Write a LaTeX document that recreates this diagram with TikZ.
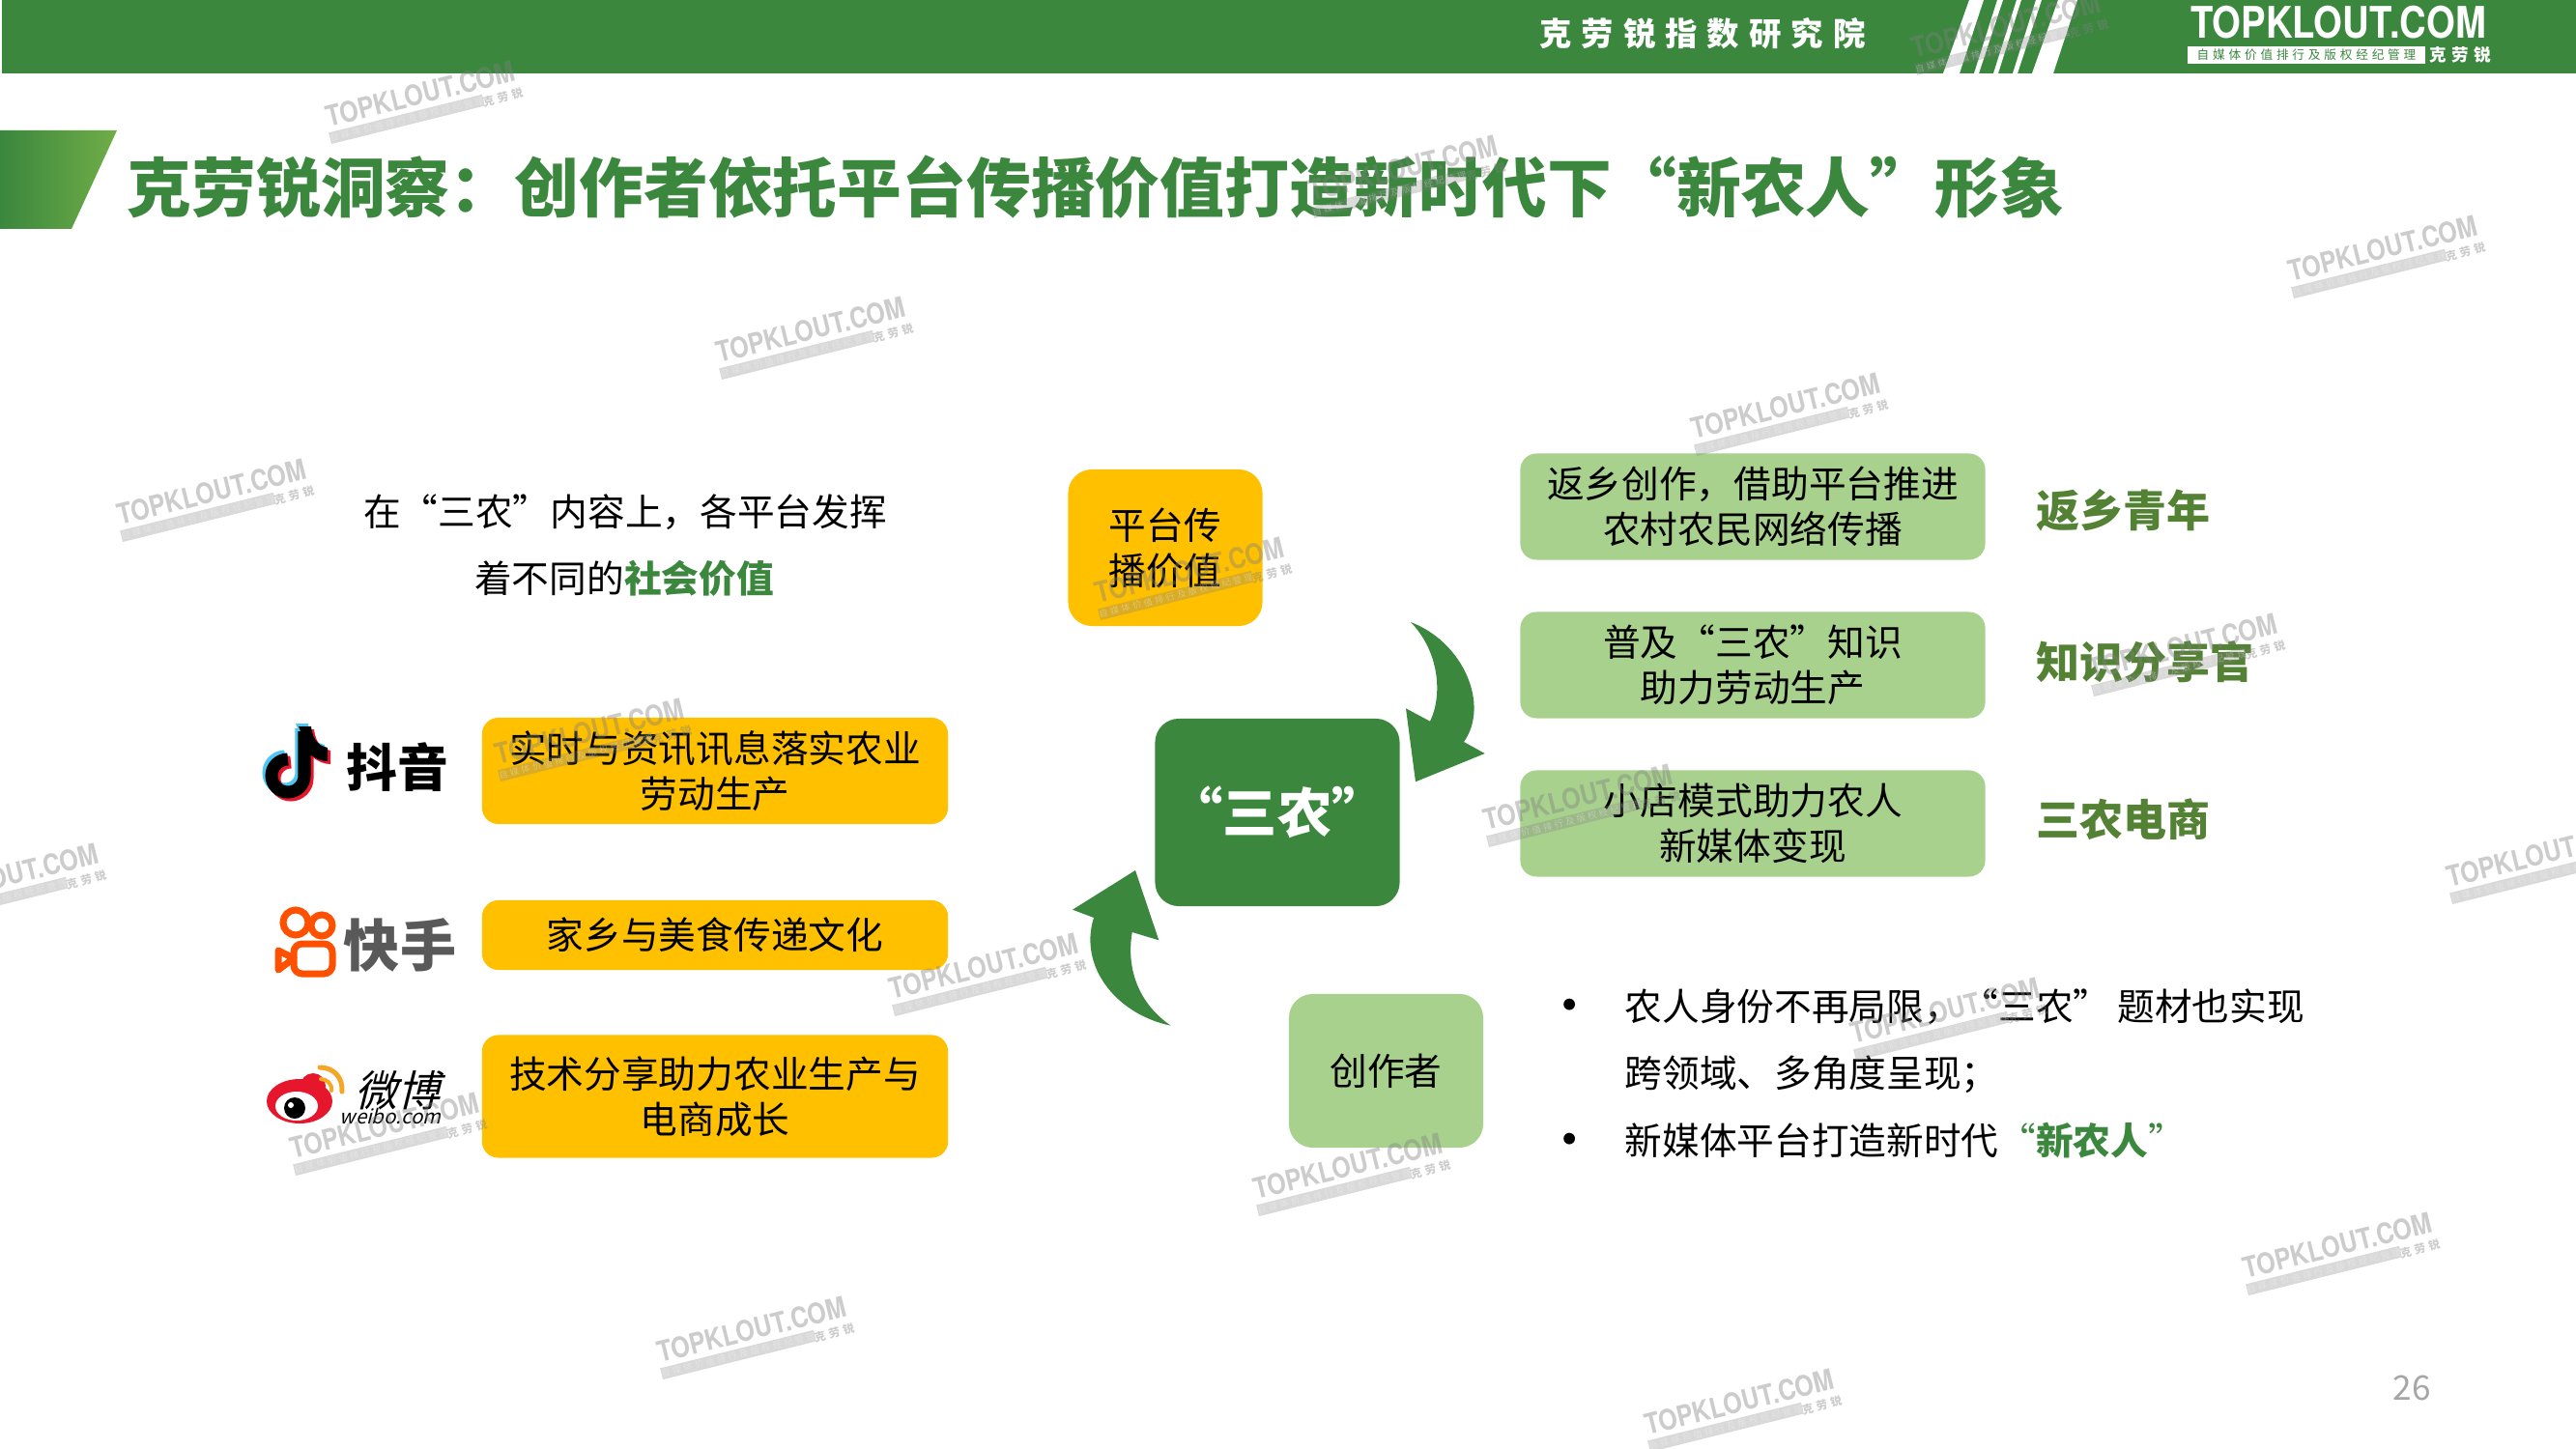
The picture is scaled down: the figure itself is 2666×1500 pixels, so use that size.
\documentclass[tikz,border=0pt]{standalone}
\usepackage{fontspec}
\setmainfont{Noto Sans CJK SC}
\newfontfamily\spacedfont[LetterSpace=30]{Noto Sans CJK SC}
\newfontfamily\slantfont[FakeSlant=0.25]{Noto Sans CJK SC}
\newfontfamily\logofont[FakeStretch=0.85]{TeX Gyre Heros}
\usepackage{xcolor}
\definecolor{hgreen}{HTML}{3B873E}
\definecolor{hlight}{HTML}{70AD47}
\definecolor{holive}{HTML}{548235}
\definecolor{hyellow}{HTML}{FFC000}
\definecolor{hmint}{HTML}{A9D18E}
\definecolor{hred}{HTML}{E6162D}
\definecolor{hamber}{HTML}{F5A623}
\definecolor{hkwai}{HTML}{FF5000}
\newcommand{\bodysize}{\fontsize{11pt}{13.4pt}\selectfont}
\newcommand{\widecolon}{\char"FF1A\relax}
\newcommand{\widecomma}{\char"FF0C\relax}
\newcommand{\widesemi}{\char"FF1B\relax}
\newcommand{\notelogo}[3]{
  \begin{scope}[shift={(#2,#3)}]
    \draw[color=#1, line width=0.13cm] (315,757) -- (315,803) arc (0:270:17);
    \fill[color=#1] (309,752) -- (322,752) .. controls (324,768) and (331,772) .. (339,774) -- (339,788) .. controls (332,788) and (326,785) .. (321,781) -- cycle;
  \end{scope}
}
\tikzset{
  yellowbox/.style={fill=hyellow, rounded corners=4.8pt, inner sep=0pt, align=center, font=\bodysize, minimum width=4.82cm},
  mintbox/.style={fill=hmint, rounded corners=4.8pt, inner sep=0pt, align=center, font=\bodysize, minimum width=4.81cm, minimum height=1.1cm},
  bigbox/.style={rounded corners=7pt, inner sep=0pt, align=center, font=\bodysize},
  plainline/.style={inner sep=0pt, font=\bodysize},
  bulletmark/.style={inner sep=0pt, font=\fontsize{16pt}{18pt}\selectfont},
  sidelabel/.style={inner sep=0pt, anchor=west, text=holive, font=\fontsize{12.8pt}{15pt}\selectfont\bfseries},
  wmtext/.style={inner sep=0pt, transform shape, opacity=0.4, text=gray, font=\fontsize{8.4pt}{9pt}\logofont\bfseries},
  wmband/.style={inner sep=0pt, transform shape, opacity=0.3, fill=gray, text=white, minimum width=1.6cm, minimum height=0.12cm, font=\fontsize{2.6pt}{3pt}\spacedfont},
  wmsmall/.style={inner sep=0pt, transform shape, opacity=0.4, text=gray, font=\fontsize{3.3pt}{4pt}\spacedfont\bfseries}
}
\begin{document}
\begin{tikzpicture}[x=0.01cm, y=-0.01cm]
  \useasboundingbox (0,0) rectangle (2666,1500);
  \fill[hgreen] (2,0) rectangle (2666,76);
  \fill[white] (2011,76) -- (2028,76) -- (2053,0) -- (2038,0) -- cycle;
  \fill[white] (2043,76) -- (2048,76) -- (2073,0) -- (2067,0) -- cycle;
  \fill[white] (2063,76) -- (2068,76) -- (2092,0) -- (2087,0) -- cycle;
  \fill[white] (2083,76) -- (2088,76) -- (2113,0) -- (2107,0) -- cycle;
  \fill[white] (2103,76) -- (2125,76) -- (2150,0) -- (2130,0) -- cycle;
  \node[inner sep=0pt, text=white, font=\fontsize{9.5pt}{11pt}\spacedfont\bfseries] (headtitle) at (1762,35) {克劳锐指数研究院};
  \node[inner sep=0pt, text=white, font=\fontsize{12.8pt}{14pt}\logofont\bfseries] (logoname) at (2420,23) {TOPKLOUT.COM};
  \node[inner sep=0pt, fill=white, text=hgreen, minimum width=2.46cm, minimum height=0.18cm, font=\fontsize{3.6pt}{4pt}\spacedfont] (logoband) at (2387,57) {自媒体价值排行及版权经纪管理};
  \node[inner sep=0pt, text=white, font=\fontsize{5pt}{6pt}\spacedfont\bfseries] (logosmall) at (2546,57) {克劳锐};
  \shade[left color=hgreen, right color=hlight] (0,135) -- (121,135) -- (74,237) -- (0,237) -- cycle;
  \node[inner sep=0pt, anchor=west, text=hgreen, font=\fontsize{19pt}{22pt}\selectfont\bfseries] (slidetitle) at (131,194) {克劳锐洞察\widecolon 创作者依托平台传播价值打造新时代下“新农人”形象};

  \node[plainline] (introa) at (647,530) {在“三农”内容上\widecomma 各平台发挥};
  \node[plainline] (introb) at (646,599) {着不同的{\bfseries\color{hgreen}社会价值}};

  \node[yellowbox, minimum height=1.1cm] (douyinbox) at (740,798) {实时与资讯讯息落实农业\\劳动生产};
  \node[yellowbox, minimum height=0.72cm] (kuaibox) at (740,968) {家乡与美食传递文化};
  \node[yellowbox, minimum height=1.27cm] (weibobox) at (740,1135) {技术分享助力农业生产与\\电商成长};

  \notelogo{cyan!70!white}{-3}{-3}
  \notelogo{hred}{3}{3}
  \notelogo{black}{0}{0}
  \node[inner sep=0pt, font=\fontsize{15pt}{17pt}\selectfont\bfseries] (douyinname) at (411,794) {抖音};

  \draw[hkwai, line width=0.07cm] (306,955) circle (13);
  \draw[hkwai, line width=0.07cm] (333,958) circle (11);
  \draw[hkwai, line width=0.07cm, rounded corners=2.5pt] (304,977) rectangle (344,1008);
  \draw[hkwai, line width=0.07cm, line join=round] (304,992) -- (288,984) -- (288,1004) -- cycle;
  \node[inner sep=0pt, text=black!65, font=\fontsize{16.5pt}{18pt}\selectfont\bfseries] (kuainame) at (414,978) {快手};

  \fill[hred] (310,1140) ellipse (34 and 23);
  \fill[hred] (324,1124) circle (13);
  \fill[white] (307,1145) ellipse (22 and 15);
  \fill[black] (305,1147) circle (11);
  \fill[white] (301,1144) circle (3);
  \draw[hamber, line width=0.05cm, line cap=round] (331,1105) .. controls (345,1105) and (355,1115) .. (354,1130);
  \draw[hamber, line width=0.04cm, line cap=round] (332,1117) .. controls (338,1117) and (344,1122) .. (343,1129);
  \node[inner sep=0pt, font=\fontsize{12.5pt}{14pt}\slantfont] (weiboname) at (411,1129) {微博};
  \node[inner sep=0pt, font=\fontsize{5.8pt}{7pt}\slantfont] (weibosite) at (404,1156) {weibo.com};

  \node[bigbox, fill=hyellow, minimum width=2.01cm, minimum height=1.62cm] (platformbox) at (1206,567) {平台传\\播价值};
  \node[bigbox, fill=hgreen, minimum width=2.53cm, minimum height=1.94cm] (sannongbox) at (1322,841) {};
  \node[inner sep=0pt, text=white, font=\fontsize{16pt}{18pt}\selectfont\bfseries] (sannongtext) at (1322,841) {“三农”};
  \node[bigbox, fill=hmint, minimum width=2.01cm, minimum height=1.59cm] (creatorbox) at (1434.5,1108.5) {创作者};

  \fill[hgreen] (1460,644) .. controls (1515,665) and (1542,730) .. (1515,768) -- (1536.7,780) -- (1465,809.3) -- (1455,733.3) -- (1480,746.7) .. controls (1493,720) and (1490,675) .. (1460,644) -- cycle;
  \fill[hgreen] (1211.7,1061.7) .. controls (1155,1050) and (1116,1000) .. (1132,950) -- (1110,941.7) -- (1175,901) -- (1199.3,973.3) -- (1171.7,965) .. controls (1165,1005) and (1180,1040) .. (1211.7,1061.7) -- cycle;

  \node[mintbox] (returnbox) at (1814,524.5) {返乡创作\widecomma 借助平台推进\\农村农民网络传播};
  \node[mintbox] (knowbox) at (1814,688.5) {普及“三农”知识\\助力劳动生产};
  \node[mintbox] (shopbox) at (1814,852.5) {小店模式助力农人\\新媒体变现};
  \node[sidelabel] (returnlabel) at (2107,528) {返乡青年};
  \node[sidelabel] (knowlabel) at (2107,685) {知识分享官};
  \node[sidelabel] (shoplabel) at (2107,848) {三农电商};

  \node[bulletmark] (bulleta) at (1625,1048) {•};
  \node[plainline, anchor=west] (pointa) at (1681,1042) {农人身份不再局限\widecomma “三农”\kern2pt题材也实现};
  \node[plainline, anchor=west] (pointb) at (1681,1112) {跨领域、多角度呈现\widesemi};
  \node[bulletmark] (bulletb) at (1625,1187) {•};
  \node[plainline, anchor=west] (pointc) at (1681,1181) {新媒体平台打造新时代{\color{hgreen}“{\bfseries 新农人}”}};
  \node[inner sep=0pt, text=black!35, font=\fontsize{10pt}{12pt}\selectfont] (pagenum) at (2496,1437) {26};

  \foreach \wx/\wy [count=\wi] in {437/105, 841/349, 221/517, 1850/428, 2468/265, 1454/182, 1233/598, 612/765, 6/915, 1020/1008, 400/1173, 1397/1215, 1635/833, 2015/1054, 2261/677, 2632/892, 2421/1297, 780/1384, 1802/1459, 2078/34}{
    \begin{scope}[shift={(\wx,\wy)}, rotate=14]
      \node[wmtext] (wmt\wi) at (0,-8) {TOPKLOUT.COM};
      \node[wmband] (wmb\wi) at (-20,14) {自媒体价值排行及版权经纪管理};
      \node[wmsmall] (wmc\wi) at (82,16) {克劳锐};
    \end{scope}
  }
\end{tikzpicture}
\end{document}
